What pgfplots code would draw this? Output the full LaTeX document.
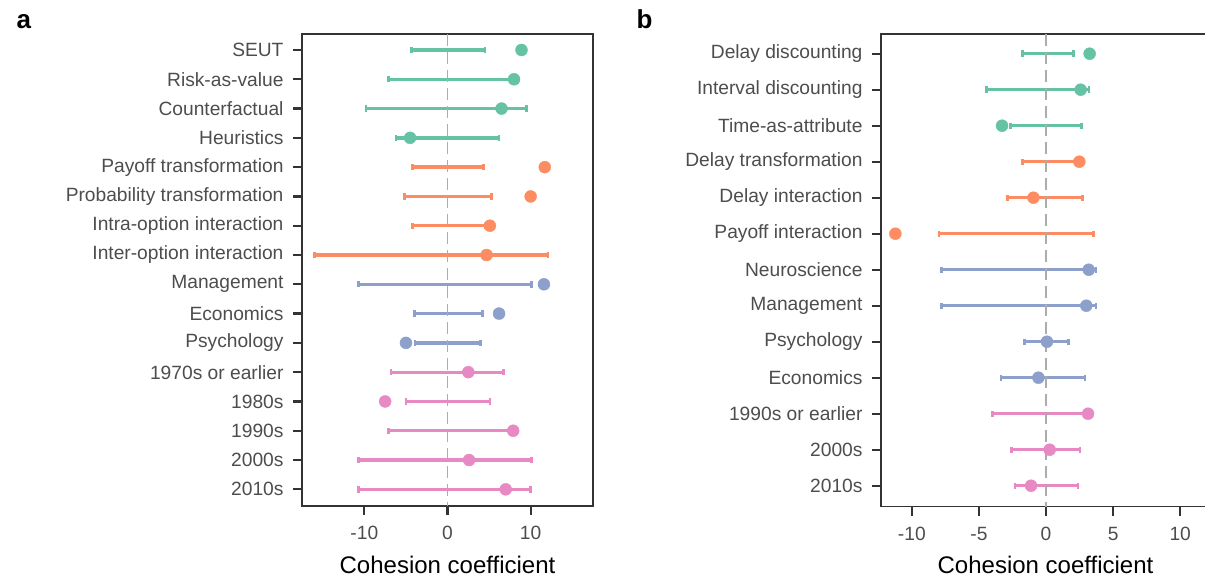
\documentclass[border=0pt]{standalone}
\usepackage{pgfplots}
\pgfplotsset{compat=1.18}
\usepackage{pgfplotstable}
\usepackage{fontspec}
\setmainfont{Liberation Sans}

\definecolor{cteal}{RGB}{102,194,165}
\definecolor{corange}{RGB}{252,141,98}
\definecolor{cblue}{RGB}{141,160,203}
\definecolor{cpink}{RGB}{231,138,195}
\definecolor{frame}{RGB}{51,51,51}
\definecolor{ticktext}{RGB}{77,77,77}

% row, lower and upper end of the interval, estimate
\pgfplotstableread{
row lo hi est
1 -4.3 4.5 8.9
2 -7.1 7.5 8.0
3 -9.8 9.5 6.5
4 -6.2 6.2 -4.5
5 -4.2 4.3 11.7
6 -5.2 5.3 10.0
7 -4.2 4.5 5.1
8 -16.0 12.1 4.7
9 -10.7 10.1 11.6
10 -4.0 4.2 6.2
11 -3.9 4.0 -5.0
12 -6.8 6.7 2.5
13 -5.0 5.1 -7.5
14 -7.1 7.4 7.9
15 -10.7 10.1 2.6
16 -10.7 10.0 7.0
}\tabA

\pgfplotstableread{
row lo hi est
1 -1.77 2.06 3.25
2 -4.45 3.2 2.58
3 -2.66 2.66 -3.28
4 -1.77 2.3 2.48
5 -2.88 2.73 -0.94
6 -7.97 3.55 -11.23
7 -7.8 3.73 3.18
8 -7.8 3.73 3.0
9 -1.59 1.69 0.07
10 -3.35 2.9 -0.57
11 -3.97 3.1 3.13
12 -2.58 2.53 0.27
13 -2.31 2.38 -1.12
}\tabB

\pgfplotsset{
  forest/.style={
    scale only axis,
    y dir=reverse,
    axis line style={draw=frame, line width=1.2pt},
    tick style={draw=frame, line width=2.2pt},
    tick align=outside,
    major tick length=9pt,
    tick pos=left,
    /pgf/number format/assume math mode=true,
    tick label style={font=\fontsize{19.2}{21}\selectfont, text=ticktext},
    yticklabel style={xshift=-6pt},
    xticklabel style={yshift=-8pt},
    xlabel={Cohesion coefficient},
    x label style={font=\fontsize{24}{28}\selectfont, at={(axis description cs:0.5,0)}, anchor=base, yshift=-67pt},
    clip=false,
  },
  ci/.style={draw=none, no markers, forget plot,
    error bars/x dir=both, error bars/x explicit,
    error bars/error mark=|,
    error bars/error bar style={draw=#1, solid, line width=3.3pt},
    error bars/error mark options={draw=#1, solid, line width=2.6pt, mark size=3.2pt}},
  est/.style={only marks, mark=*, mark size=6pt, color=#1, mark options={draw=#1, fill=#1}},
}

\newcommand{\zeroline}[2]{\draw[color=gray!65, line width=1.4pt, dash pattern=on 12pt off 6pt] (axis cs:0,#1) -- (axis cs:0,#2);}

\begin{document}
\begin{tikzpicture}
\useasboundingbox (0,0) rectangle (1205pt,582pt);
\node[anchor=base west, font=\fontsize{26}{30}\selectfont\bfseries] at (13pt,553.5pt) {a};
\node[anchor=base west, font=\fontsize{26}{30}\selectfont\bfseries] at (633pt,553.5pt) {b};

\begin{axis}[forest,
  at={(302pt,76pt)}, anchor=south west,
  width=291pt, height=472pt,
  xmin=-17.5, xmax=17.5,
  ymin=0.454, ymax=16.57,
  xtick={-10,0,10},
  ytick={1,...,16},
  yticklabels={SEUT, Risk-as-value, Counterfactual, Heuristics, Payoff transformation, Probability transformation, Intra-option interaction, Inter-option interaction, Management, Economics, Psychology, 1970s or earlier, 1980s, 1990s, 2000s, 2010s},
]
\addplot[restrict y to domain=1:4, ci=cteal] table[x expr={(\thisrow{lo}+\thisrow{hi})/2}, y=row, x error expr={(\thisrow{hi}-\thisrow{lo})/2}] {\tabA};
\addplot[restrict y to domain=5:8, ci=corange] table[x expr={(\thisrow{lo}+\thisrow{hi})/2}, y=row, x error expr={(\thisrow{hi}-\thisrow{lo})/2}] {\tabA};
\addplot[restrict y to domain=9:11, ci=cblue] table[x expr={(\thisrow{lo}+\thisrow{hi})/2}, y=row, x error expr={(\thisrow{hi}-\thisrow{lo})/2}] {\tabA};
\addplot[restrict y to domain=12:16, ci=cpink] table[x expr={(\thisrow{lo}+\thisrow{hi})/2}, y=row, x error expr={(\thisrow{hi}-\thisrow{lo})/2}] {\tabA};
\zeroline{0.454}{16.57}
\addplot[restrict y to domain=1:4, est=cteal] table[x=est, y=row] {\tabA};
\addplot[restrict y to domain=5:8, est=corange] table[x=est, y=row] {\tabA};
\addplot[restrict y to domain=9:11, est=cblue] table[x=est, y=row] {\tabA};
\addplot[restrict y to domain=12:16, est=cpink] table[x=est, y=row] {\tabA};
\end{axis}

\begin{axis}[forest,
  at={(881pt,75.3pt)}, anchor=south west,
  width=329pt, height=472.7pt,
  xmin=-12.3, xmax=12.22,
  ymin=0.453, ymax=13.583,
  xtick={-10,-5,0,5,10},
  ytick={1,...,13},
  yticklabels={Delay discounting, Interval discounting, Time-as-attribute, Delay transformation, Delay interaction, Payoff interaction, Neuroscience, Management, Psychology, Economics, 1990s or earlier, 2000s, 2010s},
]
\addplot[restrict y to domain=1:3, ci=cteal] table[x expr={(\thisrow{lo}+\thisrow{hi})/2}, y=row, x error expr={(\thisrow{hi}-\thisrow{lo})/2}] {\tabB};
\addplot[restrict y to domain=4:6, ci=corange] table[x expr={(\thisrow{lo}+\thisrow{hi})/2}, y=row, x error expr={(\thisrow{hi}-\thisrow{lo})/2}] {\tabB};
\addplot[restrict y to domain=7:10, ci=cblue] table[x expr={(\thisrow{lo}+\thisrow{hi})/2}, y=row, x error expr={(\thisrow{hi}-\thisrow{lo})/2}] {\tabB};
\addplot[restrict y to domain=11:13, ci=cpink] table[x expr={(\thisrow{lo}+\thisrow{hi})/2}, y=row, x error expr={(\thisrow{hi}-\thisrow{lo})/2}] {\tabB};
\zeroline{0.453}{13.583}
\addplot[restrict y to domain=1:3, est=cteal] table[x=est, y=row] {\tabB};
\addplot[restrict y to domain=4:6, est=corange] table[x=est, y=row] {\tabB};
\addplot[restrict y to domain=7:10, est=cblue] table[x=est, y=row] {\tabB};
\addplot[restrict y to domain=11:13, est=cpink] table[x=est, y=row] {\tabB};
\end{axis}
\end{tikzpicture}
\end{document}
